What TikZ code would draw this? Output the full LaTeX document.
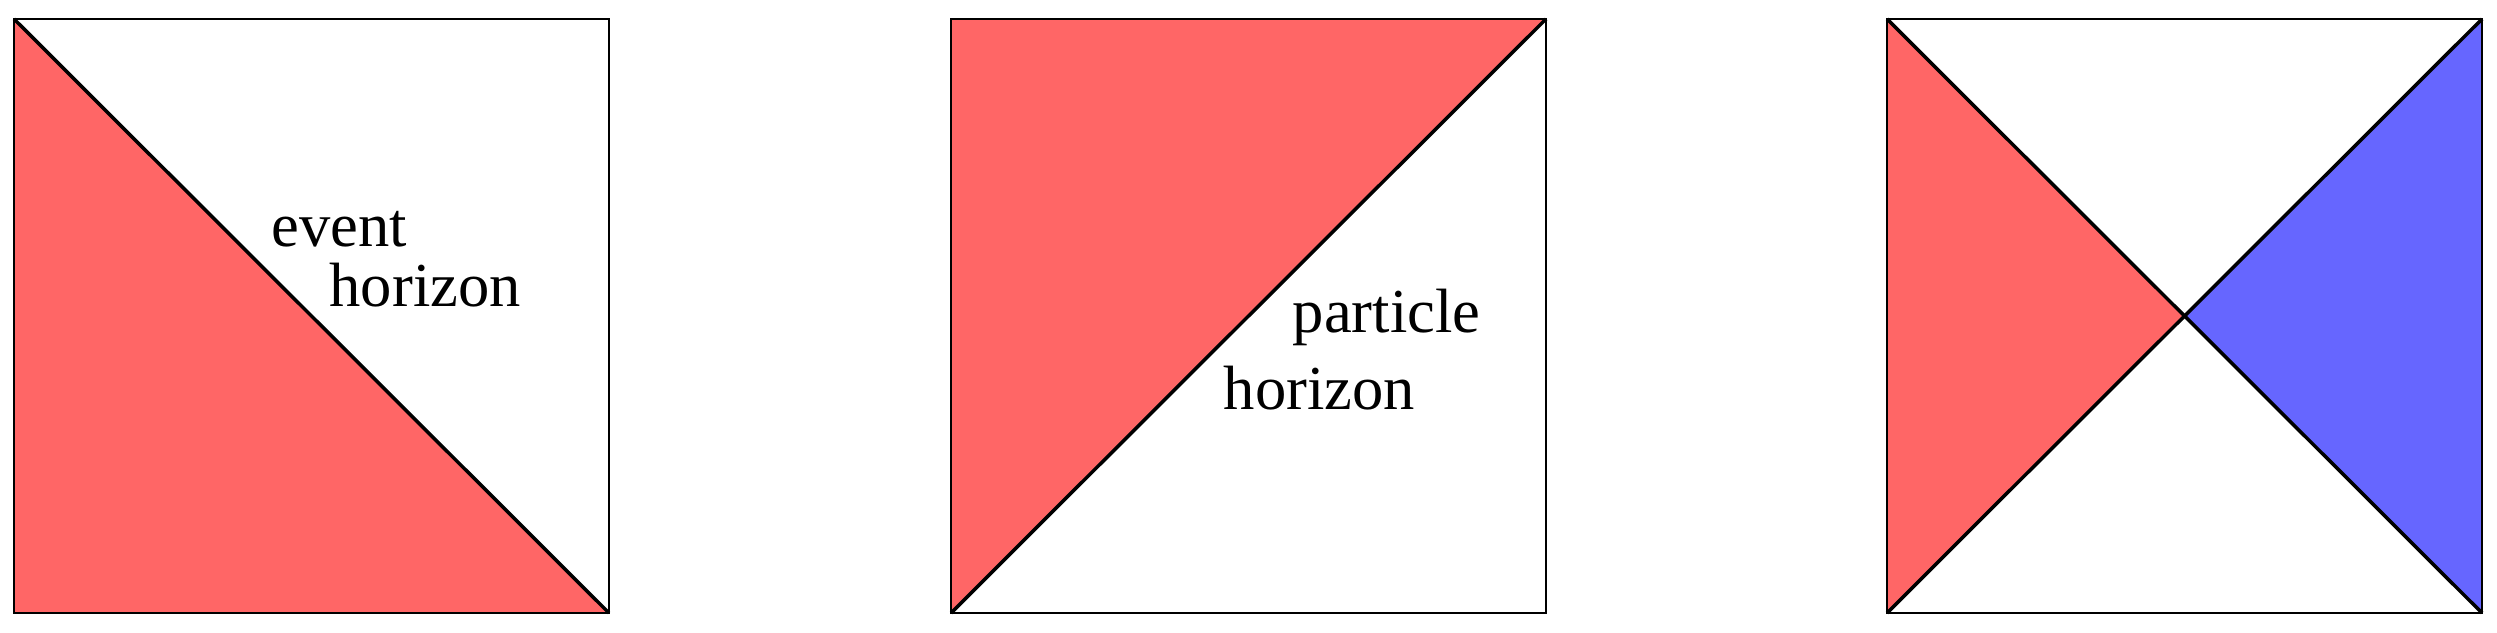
\documentclass[tikz,border=0pt]{standalone}
\usepackage{fontspec}
\setmainfont{Liberation Serif}
\usepackage{tikz}
\usetikzlibrary{positioning}

\begin{document}
\begin{tikzpicture}[
    frame/.style={draw, line width=0.8pt},
    diag/.style={draw, line width=1pt},
    region/.style={fill=red!60},
    regionb/.style={fill=blue!60},
    label/.style={inner sep=0pt, anchor=base west, font=\fontsize{17.8}{20}\selectfont}
]
\useasboundingbox (0,0) rectangle (24.97,6.32);

% first diagram
\coordinate (a-sw) at (0.14,0.19);
\coordinate (a-ne) at (6.09,6.13);
\coordinate (a-nw) at (0.14,6.13);
\coordinate (a-se) at (6.09,0.19);
\fill[region] (a-nw) -- (a-sw) -- (a-se) -- cycle;
\draw[frame] (a-sw) rectangle (a-ne);
\draw[diag] (a-nw) -- (a-se);
\node[label] (event)  at (2.71,3.85) {event};
\node[label] (horiz1) at (3.29,3.25) {horizon};

% second diagram
\coordinate (b-sw) at (9.51,0.19);
\coordinate (b-ne) at (15.46,6.13);
\coordinate (b-nw) at (9.51,6.13);
\coordinate (b-se) at (15.46,0.19);
\fill[region] (b-nw) -- (b-ne) -- (b-sw) -- cycle;
\draw[frame] (b-sw) rectangle (b-ne);
\draw[diag] (b-sw) -- (b-ne);
\node[label] (particle) at (12.92,2.99) {particle};
\node[label] (horiz2)   at (12.23,2.22) {horizon};

% third diagram
\coordinate (c-sw) at (18.87,0.19);
\coordinate (c-ne) at (24.82,6.13);
\coordinate (c-nw) at (18.87,6.13);
\coordinate (c-se) at (24.82,0.19);
\coordinate (c-mid) at (21.845,3.16);
\fill[region]  (c-nw) -- (c-mid) -- (c-sw) -- cycle;
\fill[regionb] (c-ne) -- (c-mid) -- (c-se) -- cycle;
\draw[frame] (c-sw) rectangle (c-ne);
\draw[diag] (c-nw) -- (c-se);
\draw[diag] (c-sw) -- (c-ne);
\end{tikzpicture}
\end{document}
